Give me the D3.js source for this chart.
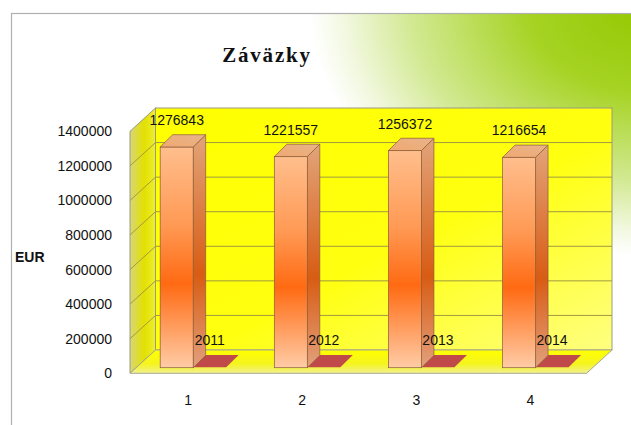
<!DOCTYPE html>
<html>
<head>
<meta charset="utf-8">
<script src="https://cdn.jsdelivr.net/npm/d3@7"></script>
<style>
  body { margin: 0; background: #fff; }
  svg { display: block; font-family: "Liberation Sans", Arial, sans-serif; }
</style>
</head>
<body>
<div id="chart"></div>
<script>
// data
const categories = ["1", "2", "3", "4"];
const values = [1276843, 1221557, 1256372, 1216654];
const years = [2011, 2012, 2013, 2014];
const yMax = 1400000;
const title = "Záväzky";
const yTitle = "EUR";

const width = 631, height = 425;
// oblique depth of the wall box
const DX = 25.5, DY = -23.3;
// bar placement inside the box
const barZ = 0.24, barW = 33, BDX = 12.5, BDY = -12.3;

const svg = d3.select("#chart").append("svg")
  .attr("width", width).attr("height", height);

const defs = svg.append("defs");

// background green glow
const bg = defs.append("radialGradient").attr("id", "bgGlow");
bg.append("stop").attr("offset", "0%").attr("stop-color", "#94c800");
bg.append("stop").attr("offset", "35%").attr("stop-color", "#a6d324");
bg.append("stop").attr("offset", "70%").attr("stop-color", "#d2e992");
bg.append("stop").attr("offset", "90%").attr("stop-color", "#f2f8e0");
bg.append("stop").attr("offset", "100%").attr("stop-color", "#ffffff");

defs.append("clipPath").attr("id", "frameClip")
  .append("rect").attr("x", 11).attr("y", 13).attr("width", 700).attr("height", 500);

function linGrad(id, x1, y1, x2, y2, stops) {
  const g = defs.append("linearGradient").attr("id", id)
    .attr("x1", x1).attr("y1", y1).attr("x2", x2).attr("y2", y2);
  stops.forEach(s => g.append("stop").attr("offset", s[0]).attr("stop-color", s[1]));
}
linGrad("wallGrad", "0%", "0%", "100%", "100%", [["0%", "#ffff00"], ["55%", "#ffff10"], ["100%", "#ffff80"]]);
linGrad("sideGrad", "0%", "0%", "100%", "0%", [["0%", "#d8d67a"], ["55%", "#e2e000"], ["100%", "#eeee30"]]);
linGrad("floorGrad", "0%", "0%", "0%", "100%", [["0%", "#ffff00"], ["60%", "#f4f420"], ["100%", "#f2f290"]]);
linGrad("barFront", "0%", "0%", "0%", "100%", [["0%", "#ffbe8c"], ["35%", "#ff9a55"], ["62%", "#ff6a12"], ["100%", "#ffcca6"]]);
linGrad("barSide", "0%", "0%", "0%", "100%", [["0%", "#e2a47a"], ["60%", "#d85c14"], ["100%", "#e2a07c"]]);
linGrad("barTop", "0%", "100%", "100%", "0%", [["0%", "#f0a870"], ["100%", "#e8b48a"]]);

svg.append("g").attr("clip-path", "url(#frameClip)")
  .append("ellipse")
  .attr("cx", 645).attr("cy", 5).attr("rx", 335).attr("ry", 250)
  .attr("fill", "url(#bgGlow)");

// frame
svg.append("rect")
  .attr("x", 11.5).attr("y", 13.5).attr("width", 700).attr("height", 500)
  .attr("fill", "none").attr("stroke", "#b0b0b0").attr("stroke-width", 1.2);

// title
svg.append("text")
  .attr("x", 267).attr("y", 62)
  .attr("text-anchor", "middle")
  .attr("font-family", "'Liberation Serif', 'Times New Roman', serif")
  .attr("font-weight", "bold").attr("font-size", 21)
  .attr("letter-spacing", 1.8)
  .attr("fill", "#111")
  .text(title);

// scales (front plane of the box)
const x = d3.scaleBand().domain(categories).range([130, 586.5]);
const y = d3.scaleLinear().domain([0, yMax]).range([373.3, 131.3]);
const ticks = y.ticks(7);

const px = (xx, z) => xx + z * DX;
const py = (yy, z) => yy + z * DY;
const pts = a => a.map(p => p.join(",")).join(" ");

const box = svg.append("g");
const x0 = x.range()[0], x1 = x.range()[1];

// back wall
box.append("rect")
  .attr("x", px(x0, 1)).attr("y", py(y(yMax), 1))
  .attr("width", x1 - x0).attr("height", y(0) - y(yMax))
  .attr("fill", "url(#wallGrad)").attr("stroke", "#9a9a80").attr("stroke-width", 1);

// side wall
box.append("polygon")
  .attr("points", pts([[x0, y(yMax)], [px(x0, 1), py(y(yMax), 1)], [px(x0, 1), py(y(0), 1)], [x0, y(0)]]))
  .attr("fill", "url(#sideGrad)").attr("stroke", "#9a9a80").attr("stroke-width", 1);

// floor
box.append("polygon")
  .attr("points", pts([[x0, y(0)], [x1, y(0)], [px(x1, 1), py(y(0), 1)], [px(x0, 1), py(y(0), 1)]]))
  .attr("fill", "url(#floorGrad)").attr("stroke", "#a8a890").attr("stroke-width", 1);

// gridlines on side + back wall
const grid = box.append("g").attr("stroke", "#a09a40").attr("stroke-width", 1).attr("fill", "none");
ticks.filter(t => t > 0 && t < yMax).forEach(t => {
  grid.append("polyline")
    .attr("points", pts([[x0, y(t)], [px(x0, 1), py(y(t), 1)], [px(x1, 1), py(y(t), 1)]]));
});

// y tick labels
svg.append("g").selectAll("text").data(ticks).join("text")
  .attr("x", 112).attr("y", d => y(d) + 5)
  .attr("text-anchor", "end").attr("font-size", 14).attr("fill", "#111")
  .text(d => d);

svg.append("text")
  .attr("x", 15).attr("y", 262)
  .attr("font-size", 14).attr("font-weight", "bold").attr("fill", "#111")
  .text(yTitle);

// category labels
svg.append("g").selectAll("text").data(categories).join("text")
  .attr("x", d => x(d) + x.bandwidth() / 2 + 1).attr("y", 405)
  .attr("text-anchor", "middle").attr("font-size", 14).attr("fill", "#111")
  .text(d => d);

// bars
const baseY = py(y(0), barZ);
const hScale = d3.scaleLinear().domain([0, yMax]).range([0, y(0) - y(yMax)]);

function drawBar(g, bx, v, front, side, top, flat) {
  const h = hScale(v);
  const yt = baseY - h;
  const stroke = flat ? "none" : "#8a5a3a";
  if (!flat) {
    g.append("polygon")
      .attr("points", pts([[bx + barW, yt], [bx + barW + BDX, yt + BDY], [bx + barW + BDX, baseY + BDY], [bx + barW, baseY]]))
      .attr("fill", side).attr("stroke", stroke).attr("stroke-width", 0.7);
    g.append("rect")
      .attr("x", bx).attr("y", yt).attr("width", barW).attr("height", h)
      .attr("fill", front).attr("stroke", stroke).attr("stroke-width", 0.7);
  }
  g.append("polygon")
    .attr("points", pts([[bx, yt], [bx + barW, yt], [bx + barW + BDX, yt + BDY], [bx + BDX, yt + BDY]]))
    .attr("fill", top).attr("stroke", stroke).attr("stroke-width", 0.7);
  return yt;
}

const bars = svg.append("g");
categories.forEach((c, i) => {
  const cx = px(x(c) + x.bandwidth() / 2, barZ);
  // second series (years) sits to the right, drawn first so it is behind
  const yt2 = drawBar(bars, cx, years[i], "#c0504d", "#a04040", "#c04a4a", true);
  const yt1 = drawBar(bars, cx - barW, values[i], "url(#barFront)", "url(#barSide)", "url(#barTop)", false);
  bars.append("text")
    .attr("x", cx - barW / 2).attr("y", yt1 - 22)
    .attr("text-anchor", "middle").attr("font-size", 14).attr("fill", "#111")
    .text(values[i]);
  bars.append("text")
    .attr("x", cx + barW / 2).attr("y", yt2 - 22)
    .attr("text-anchor", "middle").attr("font-size", 14).attr("fill", "#111")
    .text(years[i]);
});
</script>
</body>
</html>
